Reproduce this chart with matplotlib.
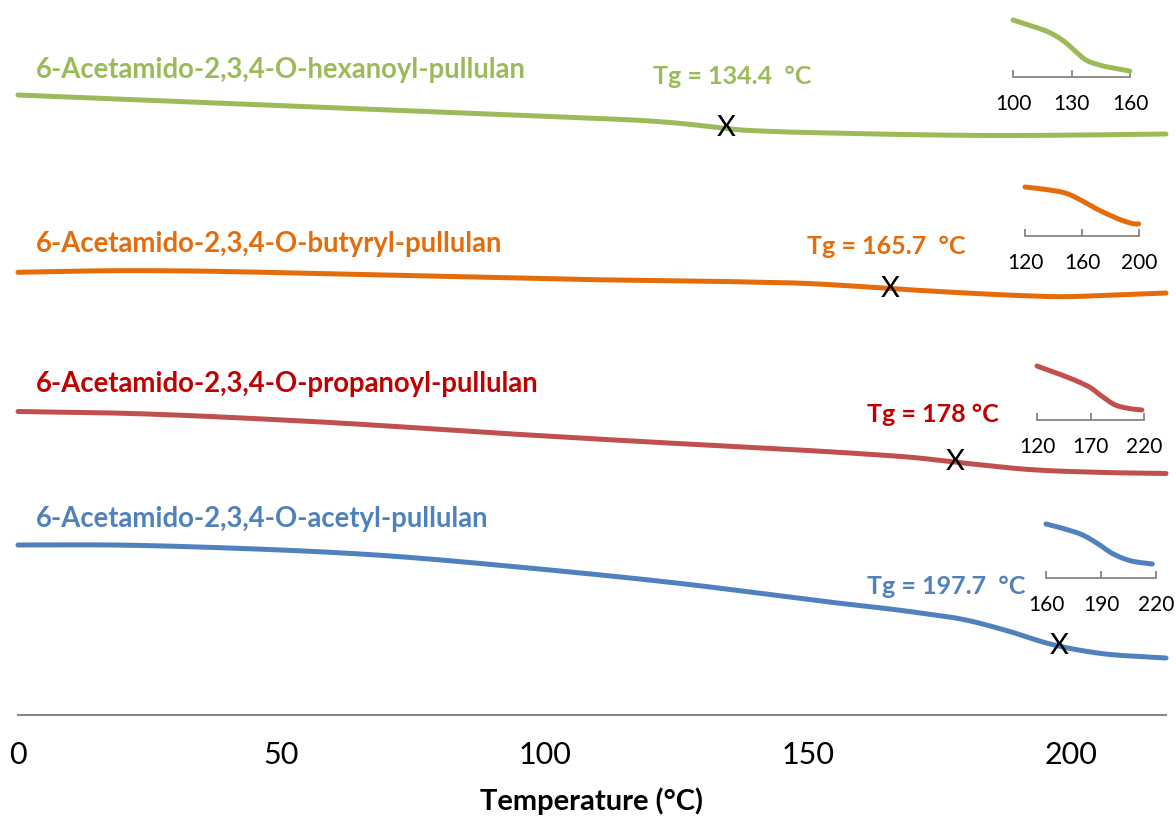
import numpy as np
import matplotlib
matplotlib.use("Agg")
import matplotlib.pyplot as plt

plt.rcParams["font.family"] = ["Lato", "DejaVu Sans"]

# DSC traces, temperature in °C, signal in arbitrary offset units
hex_temp = [0, 25, 55, 80, 100, 110, 120, 127, 132, 137, 143, 154, 168, 186, 202, 218]
hex_flow = [620, 614.7, 608.3, 603, 598.7, 596.6, 594, 591, 588, 585.2, 583.6, 582, 580.5, 579.5, 580, 581]

but_temp = [0, 18, 33, 55, 84, 107, 120, 136, 150, 160, 170, 180, 190, 198, 208, 218]
but_flow = [442.7, 444.3, 444, 441.7, 438.3, 435.5, 434.5, 433.3, 431.5, 428.5, 425, 422, 419.5, 418.3, 420, 422]

pro_temp = [0, 18, 54, 97, 120, 145, 160, 170, 180, 192, 205, 218]
pro_flow = [303.5, 302, 294, 280, 273, 266, 261.3, 257.5, 251.7, 245.5, 242.7, 241.5]

ace_temp = [0, 18, 40, 68, 97, 125, 154, 170, 180, 188, 196, 205, 218]
ace_flow = [170, 170, 167, 160, 147, 132, 113, 103, 95, 84, 71, 62, 57]

names = [
    "6-Acetamido-2,3,4-O-hexanoyl-pullulan",
    "6-Acetamido-2,3,4-O-butyryl-pullulan",
    "6-Acetamido-2,3,4-O-propanoyl-pullulan",
    "6-Acetamido-2,3,4-O-acetyl-pullulan",
]
tg_values = [134.4, 165.7, 178, 197.7]
tg_texts = ["Tg = 134.4  °C", "Tg = 165.7  °C", "Tg = 178 °C", "Tg = 197.7  °C"]
line_colors = ["#9BBB59", "#E46C0A", "#C0504D", "#4F81BD"]
text_colors = ["#9BBB59", "#E46C0A", "#C00000", "#4F81BD"]

# zoomed windows around each transition
zoom_ranges = [(100, 160), (120, 200), (120, 220), (160, 220)]
zoom_ticks = [[100, 130, 160], [120, 160, 200], [120, 170, 220], [160, 190, 220]]

temps = [hex_temp, but_temp, pro_temp, ace_temp]
flows = [hex_flow, but_flow, pro_flow, ace_flow]


def smooth(x, y, n=24):
    # cubic Hermite curve through the points (smoothed line)
    x = np.asarray(x, float)
    y = np.asarray(y, float)
    m = np.gradient(y, x)
    t = np.linspace(0, 1, n, endpoint=False)
    h00 = 2 * t ** 3 - 3 * t ** 2 + 1
    h10 = t ** 3 - 2 * t ** 2 + t
    h01 = -2 * t ** 3 + 3 * t ** 2
    h11 = t ** 3 - t ** 2
    xs, ys = [], []
    for i in range(len(x) - 1):
        h = x[i + 1] - x[i]
        xs.append(x[i] + t * h)
        ys.append(h00 * y[i] + h10 * h * m[i] + h01 * y[i + 1] + h11 * h * m[i + 1])
    return np.r_[np.concatenate(xs), x[-1]], np.r_[np.concatenate(ys), y[-1]]


W, H = 1176, 819
fig = plt.figure(figsize=(W / 100, H / 100), dpi=100)


def px_axes(left, top, right, bottom):
    return fig.add_axes([left / W, 1 - bottom / H, (right - left) / W, (bottom - top) / H])


ax = px_axes(18, 0, 1166, 715)
ax.set_xlim(0, 218)
ax.set_ylim(0, 715)

for t, f, c in zip(temps, flows, line_colors):
    sx, sy = smooth(t, f)
    ax.plot(sx, sy, color=c, lw=3.6, solid_capstyle="round", clip_on=False)

# glass transition markers
for t, f, tg in zip(temps, flows, tg_values):
    sx, sy = smooth(t, f)
    ax.text(tg, np.interp(tg, sx, sy), "X", fontsize=21, ha="center", va="center", color="black")

label_y = [645, 471, 331, 196]
for name, y, c in zip(names, label_y, text_colors):
    ax.text(3.4, y, name, fontsize=19.8, fontweight="bold", color=c, va="center", ha="left")

tg_pos = [(135.6, 638), (164.9, 468), (173.8, 301), (176.3, 128)]
for (x, y), s, c in zip(tg_pos, tg_texts, text_colors):
    ax.text(x, y, s, fontsize=18, fontweight="bold", color=c, va="center", ha="center")

for side in ["left", "right", "top"]:
    ax.spines[side].set_visible(False)
ax.spines["bottom"].set_color("#868686")
ax.spines["bottom"].set_linewidth(1.5)
ax.set_yticks([])
ax.set_xticks([0, 50, 100, 150, 200])
ax.tick_params(axis="x", length=0, pad=19, labelsize=22)
ax.set_xlabel("Temperature (°C)", fontsize=21, fontweight="bold", labelpad=13)

# small insets: (left, top, right, bottom) of the curve box, gap down to the axis in px
inset_boxes = [(1013, 20, 1130, 71, 6), (1025, 187, 1139, 224, 12),
               (1037, 366, 1144, 410, 10), (1046, 524, 1156, 564, 14)]

for (l, tp, r, b, gap), (lo, hi), ticks, t, f, c in zip(
        inset_boxes, zoom_ranges, zoom_ticks, temps, flows, line_colors):
    ia = px_axes(l, tp, r, b)
    sx, sy = smooth(t, f)
    keep = (sx >= lo) & (sx <= hi)
    ia.plot(sx[keep], sy[keep], color=c, lw=3.6, solid_capstyle="round", clip_on=False)
    ia.set_xlim(lo, hi)
    ia.set_ylim(sy[keep].min(), sy[keep].max())
    ia.patch.set_visible(False)
    for side in ["left", "right", "top"]:
        ia.spines[side].set_visible(False)
    ia.spines["bottom"].set_position(("outward", gap * 0.72))
    ia.spines["bottom"].set_color("#868686")
    ia.spines["bottom"].set_linewidth(1.3)
    ia.set_yticks([])
    ia.set_xticks(ticks)
    ia.tick_params(axis="x", direction="in", length=5, width=1.3, color="#868686",
                   labelsize=15, pad=12)

fig.savefig("out.png", dpi=100)
